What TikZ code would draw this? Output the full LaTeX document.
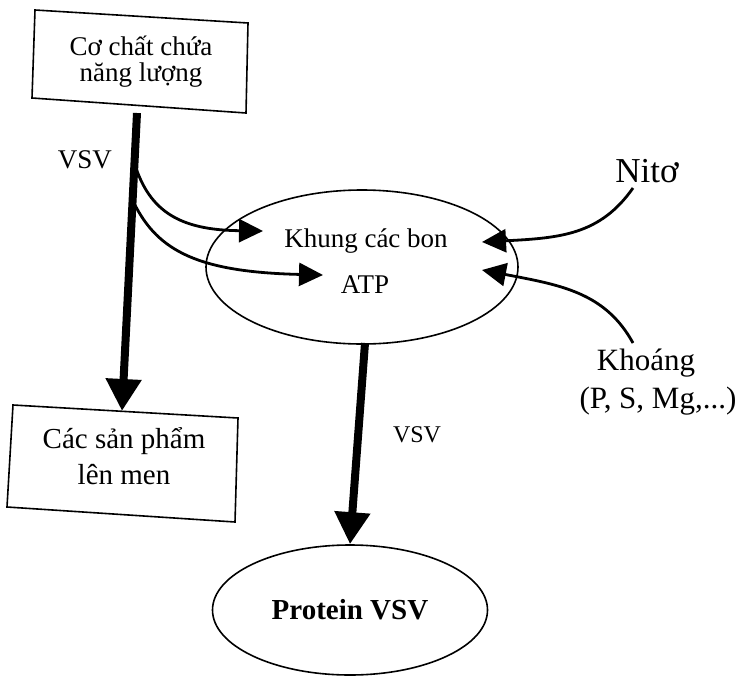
\documentclass[tikz,border=0pt]{standalone}
\usepackage{fontspec}
\setmainfont{Liberation Serif}
\usetikzlibrary{arrows.meta,shapes.geometric}
\begin{document}
\begin{tikzpicture}[x=1pt,y=-1pt,
  boxline/.style={draw, line width=1.6pt, line join=miter},
  bigarrow/.style={line width=8pt, -{Triangle[length=32pt,width=34pt]}},
  thinarrow/.style={line width=2.8pt, -{Triangle[length=24pt,width=23pt]}},
  oval/.style={draw, ellipse, line width=1.6pt, inner sep=0pt},
  lbl/.style={inner sep=0pt, align=center}]
\useasboundingbox (0,0) rectangle (746,677);
% top box
\coordinate (a1) at (35,10);
\coordinate (a2) at (248,23);
\coordinate (a3) at (246,113);
\coordinate (a4) at (32,98);
\draw[boxline] (a1) -- (a2) -- (a3) -- (a4) -- cycle;
\node[lbl, font={\fontsize{27}{26}\selectfont}] (topText) at (141,62) {Cơ chất chứa\\năng lượng};
% bottom box
\coordinate (b1) at (13,405);
\coordinate (b2) at (238,418);
\coordinate (b3) at (235,522);
\coordinate (b4) at (7,507);
\draw[boxline] (b1) -- (b2) -- (b3) -- (b4) -- cycle;
\node[lbl, font={\fontsize{29}{36}\selectfont}] (botText) at (124,456) {Các sản phẩm\\lên men};
% ellipses
\node[oval, minimum width=312pt, minimum height=154pt] (cell) at (362,267) {};
\node[oval, minimum width=275pt, minimum height=130pt, font={\fontsize{29}{34}\selectfont\bfseries}] (protein) at (350,610) {Protein VSV};
% labels
\node[lbl, font={\fontsize{27}{32}\selectfont}] (vsvL) at (85,160) {VSV};
\node[lbl, font={\fontsize{24}{28}\selectfont}] (vsvM) at (417,435) {VSV};
\node[lbl, anchor=base, font={\fontsize{27}{32}\selectfont}] (khung) at (366,247) {Khung các bon};
\node[lbl, anchor=base, font={\fontsize{27}{32}\selectfont}] (atp) at (365,293) {ATP};
\node[lbl, anchor=base, font={\fontsize{35}{40}\selectfont}] (nito) at (647,182) {Nitơ};
\node[lbl, font={\fontsize{31}{38}\selectfont}] (khoang) at (658,382) {Khoáng\kern24pt\\(P, S, Mg,...)};
% connector end points
\coordinate (vtop) at (137,113);
\coordinate (vbot) at (122,411);
\coordinate (br1) at (136,168);
\coordinate (br2) at (134,203);
\coordinate (tipK) at (263,231);
\coordinate (tipA) at (323,275);
\coordinate (nitoS) at (633,188);
\coordinate (tipN) at (482,242);
\coordinate (khoangS) at (633,343);
\coordinate (tipM) at (482,270);
% thick arrows
\draw[bigarrow] (vtop) -- (vbot);
\draw[bigarrow] (365,343) -- (protein.north);
% thin arrows
\draw[thinarrow] (br1) .. controls (152,215) and (185,230) .. (tipK);
\draw[thinarrow] (br2) .. controls (158,252) and (200,272) .. (tipA);
\draw[thinarrow] (nitoS) .. controls (600,235) and (560,238) .. (tipN);
\draw[thinarrow] (khoangS) .. controls (605,292) and (560,285) .. (tipM);
\end{tikzpicture}
\end{document}
